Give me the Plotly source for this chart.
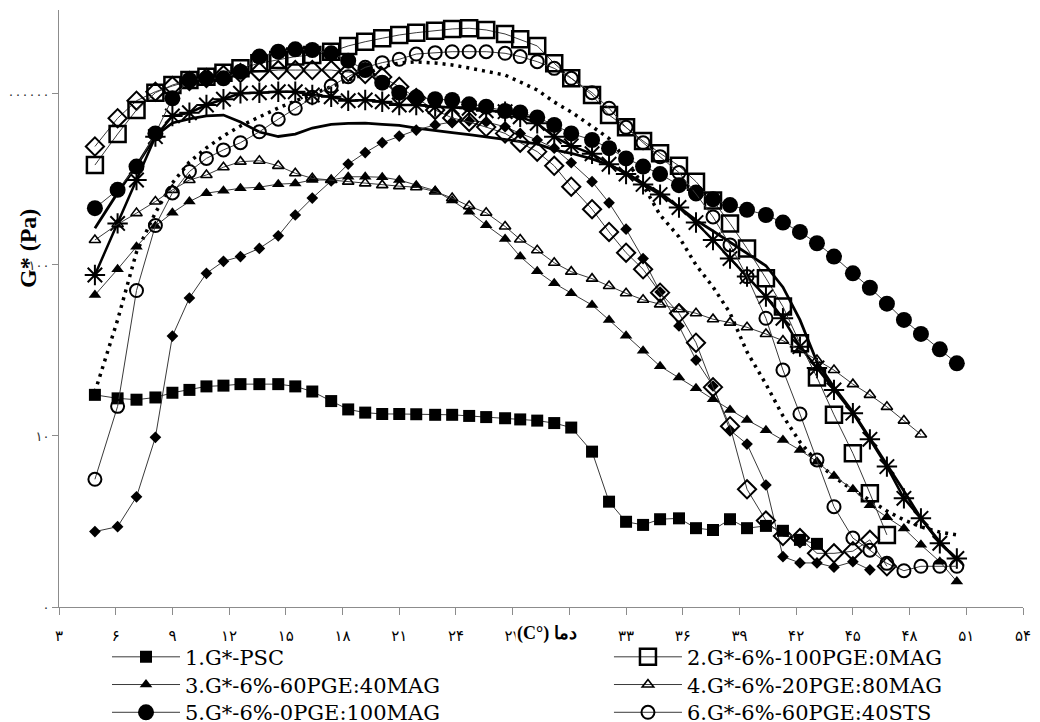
import plotly.graph_objects as go

# Temperature grid (°C)
temps = [4.9, 6.1, 7.1, 8.1, 9.0, 9.9, 10.8, 11.7, 12.6, 13.6, 14.6, 15.5, 16.4, 17.4, 18.3,
         19.2, 20.1, 21.0, 21.9, 22.9, 23.8, 24.7, 25.6, 26.6, 27.4, 28.3, 29.2, 30.1, 31.2,
         32.1, 33.0, 33.9, 34.8, 35.8, 36.7, 37.6, 38.5, 39.4, 40.4, 41.3, 42.2, 43.1, 44.0,
         45.0, 45.9, 46.8, 47.7, 48.6, 49.6, 50.5]

# G* (Pa) series
g_psc = [17.4, 16.6, 16.3, 16.8, 17.9, 18.6, 19.5, 19.7, 20.1, 20.1, 20.1, 19.5, 18.2, 16.0,
         14.3, 13.7, 13.45, 13.45, 13.4, 13.3, 13.3, 13.1, 12.9, 12.7, 12.5, 12.3, 11.9, 11.2,
         8.1, 4.13, 3.15, 3.02, 3.26, 3.30, 2.89, 2.82, 3.26, 2.89, 2.98, 2.79, 2.47, 2.34]
g_100pge = [384, 583, 806, 1017, 1128, 1207, 1262, 1331, 1412, 1511, 1581, 1654, 1690, 1767,
            1909, 2021, 2117, 2213, 2283, 2346, 2400, 2423, 2368, 2243, 2086, 1909, 1511, 1235,
            986, 753, 638, 531, 450, 380, 307, 238, 175, 125, 83.6, 57.1, 34.8, 22.0, 13.3,
            7.92, 4.62, 2.64]
g_60pge_40mag = [66.7, 94.4, 128, 169, 202, 235, 263, 272, 281, 285, 297, 300, 314, 314, 328,
                 328, 326, 314, 293, 272, 238, 205, 171, 142, 112, 91.8, 78.1, 68.3, 58.3,
                 47.7, 38.5, 31.5, 25.6, 22.0, 19.0, 16.4, 14.2, 12.4, 10.8, 9.47, 8.28, 7.08,
                 5.83, 4.88, 3.94, 3.35, 2.88, 2.31, 1.84, 1.41]
g_20pge_80mag = [140, 173, 201, 235, 275, 314, 336, 373, 402, 407, 380, 344, 321, 314, 307,
                 300, 293, 289, 285, 269, 246, 221, 202, 168, 141, 122, 103, 91.4, 83.2, 75.4,
                 68.3, 62.6, 58.8, 55.1, 52.2, 48.2, 46.0, 43.2, 39.5, 36.1, 31.8, 27.8, 24.3,
                 20.1, 17.4, 14.8, 12.3, 10.2]
g_0pge_100mag = [215, 275, 376, 588, 943, 1207, 1235, 1235, 1349, 1654, 1767, 1825, 1808, 1729,
                 1566, 1380, 1164, 1017, 956, 931, 922, 870, 843, 795, 780, 729, 659, 588, 538,
                 482, 420, 376, 340, 293, 265, 242, 224, 210, 196, 177, 156, 134, 112, 89.4,
                 73.6, 59.4, 47.7, 39.5, 32.1, 26.6]
g_60pge_40sts = [5.58, 14.9, 70.9, 170, 264, 352, 420, 471, 519, 601, 712, 825, 956, 1113, 1262,
                 1431, 1525, 1596, 1712, 1744, 1767, 1767, 1767, 1729, 1654, 1545, 1412, 1235,
                 1017, 825, 638, 519, 430, 347, 260, 191, 131, 85.5, 48.8, 24.3, 13.45, 7.24,
                 3.86, 2.53, 2.15, 1.80, 1.63, 1.73, 1.73, 1.73]
g_fdiamond = [2.76, 2.95, 4.41, 9.82, 38.4, 64.1, 89.4, 105, 112, 125, 148, 196, 246, 310, 389,
              454, 519, 567, 615, 659, 686, 696, 686, 643, 588, 538, 482, 396, 307, 231, 162,
              109, 69.5, 44.0, 27.8, 19.6, 10.8, 8.97, 5.17, 1.97, 1.81, 1.81, 1.71, 1.84, 1.65]
g_odiamond = [493, 721, 913, 1031, 1113, 1191, 1240, 1290, 1325, 1349, 1380, 1380, 1380, 1380,
              1343, 1307, 1256, 1103, 947, 806, 724, 686, 640, 588, 519, 460, 380, 287, 212,
              156, 118, 94.4, 68.9, 52.2, 35.1, 19.3, 11.4, 4.88, 3.20, 2.60, 2.53, 2.06, 2.06,
              2.12, 2.47, 1.73]
g_asterisk = [87.4, 175, 314, 563, 744, 777, 862, 931, 1009, 1017, 1031, 1031, 986, 964, 913,
              922, 901, 862, 862, 843, 835, 825, 798, 788, 735, 674, 563, 497, 447, 388, 340,
              296, 258, 217, 177, 140, 109, 85.5, 65.3, 48.8, 33.3, 25.0, 18.6, 13.6, 9.56,
              6.62, 4.32, 3.30, 2.36, 1.92]
g_solid = [164, 264, 380, 568, 677, 715, 744, 753, 686, 599, 564, 583, 632, 664, 673, 676, 664,
           655, 632, 615, 595, 579, 561, 545, 531, 510, 471, 450, 417, 384, 346, 300, 265, 218,
           183, 158, 136, 117, 99, 74.2, 47.7, 27.1, 19.3, 13.8, 9.7, 6.77, 4.77, 3.3, 2.4, 1.88]
g_dotted = [18.1, 47.7, 119, 202, 302, 400, 484, 568, 650, 734, 828, 910, 999, 1098, 1207, 1307,
            1437, 1518, 1539, 1518, 1478, 1418, 1361, 1290, 1175, 1055, 897, 785, 646, 549, 411,
            293, 196, 146, 100, 74.4, 52.4, 31.0, 20.1, 13.1, 9.22, 7.05, 5.75, 4.83, 4.22,
            3.64, 3.23, 2.94, 2.74, 2.64]

legend_names = ["1.G*-PSC", "2.G*-6%-100PGE:0MAG", "3.G*-6%-60PGE:40MAG",
                "4.G*-6%-20PGE:80MAG", "5.G*-6%-0PGE:100MAG", "6.G*-6%-60PGE:40STS"]

x_tick_vals = [3, 6, 9, 12, 15, 18, 21, 24, 27, 30, 33, 36, 39, 42, 45, 48, 51, 54]
x_tick_text = ["۳", "۶", "۹", "۱۲", "۱۵", "۱۸", "۲۱", "۲۴", "۲۷", "۳۰", "۳۳", "۳۶", "۳۹",
               "۴۲", "۴۵", "۴۸", "۵۱", "۵۴"]
y_tick_vals = [1, 10, 100, 1000]
y_tick_text = ["۰", "۱۰", "۱۰۰", "۱۰۰۰۰۰۰"]

THIN = dict(color="#3a3a3a", width=1)
fig = go.Figure()

def add(y, name, symbol, size, lw=0, line=THIN, legend=None, mode="lines+markers"):
    fig.add_trace(go.Scatter(
        x=temps[:len(y)], y=y, name=name, mode=mode, showlegend=legend is not None,
        legend=legend or "legend",
        line=line,
        marker=dict(symbol=symbol, size=size, color="black",
                    line=dict(color="black", width=lw)),
    ))

# unlabeled series (drawn underneath)
add(g_dotted, "dotted", "circle", 1, mode="lines",
    line=dict(color="black", width=3.5, dash="3px,5px"))
add(g_solid, "solid", "circle", 1, mode="lines", line=dict(color="black", width=2.8))
add(g_fdiamond, "fd", "diamond", 9)
add(g_odiamond, "od", "diamond-open", 14, lw=2)
add(g_asterisk, "ast", "asterisk-open", 17, lw=2, line=dict(color="black", width=2.5))

add(g_psc, legend_names[0], "square", 12, legend="legend")
add(g_100pge, legend_names[1], "square-open", 16, lw=2.5, legend="legend2")
add(g_60pge_40mag, legend_names[2], "triangle-up", 11, legend="legend3")
add(g_20pge_80mag, legend_names[3], "triangle-up-open", 10, lw=1.6, legend="legend4")
add(g_0pge_100mag, legend_names[4], "circle", 16, legend="legend5")
add(g_60pge_40sts, legend_names[5], "circle-open", 13, lw=2, legend="legend6")

leg_font = dict(family="DejaVu Serif", size=21, color="black")
col_x = [0.0498, 0.5705]
row_y = [-0.0497, -0.0961, -0.1426]

def leg(i):
    return dict(x=col_x[i % 2], y=row_y[i // 2], xanchor="left", yanchor="top",
                orientation="v", itemwidth=68, font=leg_font,
                bgcolor="rgba(0,0,0,0)", borderwidth=0)

fig.update_layout(
    width=1040, height=722,
    margin=dict(l=51, r=25, t=2, b=123, autoexpand=False),
    plot_bgcolor="white", paper_bgcolor="white",
    legend=leg(0), legend2=leg(1), legend3=leg(2),
    legend4=leg(3), legend5=leg(4), legend6=leg(5),
    xaxis=dict(range=[3, 54], tickmode="array", tickvals=x_tick_vals, ticktext=x_tick_text,
               showgrid=False, zeroline=False, showline=True, linecolor="#8c8c8c",
               linewidth=1, ticks="outside", ticklen=7, tickcolor="#8c8c8c",
               ticklabelstandoff=8, automargin=False,
               tickfont=dict(family="DejaVu Sans", size=15, color="black")),
    yaxis=dict(type="log", range=[0, 3.491], tickmode="array", tickvals=y_tick_vals,
               ticktext=y_tick_text, showgrid=False, zeroline=False, showline=True,
               linecolor="#8c8c8c", linewidth=1, ticks="outside", ticklen=6,
               tickcolor="#8c8c8c", ticklabelstandoff=0, automargin=False,
               tickfont=dict(family="DejaVu Sans", size=13, color="#333333")),
    annotations=[
        dict(text="<b>G* (Pa)</b>", xref="paper", yref="paper", x=-0.032, y=0.6,
             xanchor="center", yanchor="middle", textangle=-90, showarrow=False,
             font=dict(family="Liberation Serif", size=24, color="black")),
        dict(text="<b>(C°) دما</b>", xref="paper", yref="paper", x=0.506, y=-0.045,
             xanchor="center", yanchor="middle", showarrow=False, bgcolor="white",
             font=dict(family="Liberation Serif", size=18, color="black")),
    ],
)

fig.write_html("out.html")
